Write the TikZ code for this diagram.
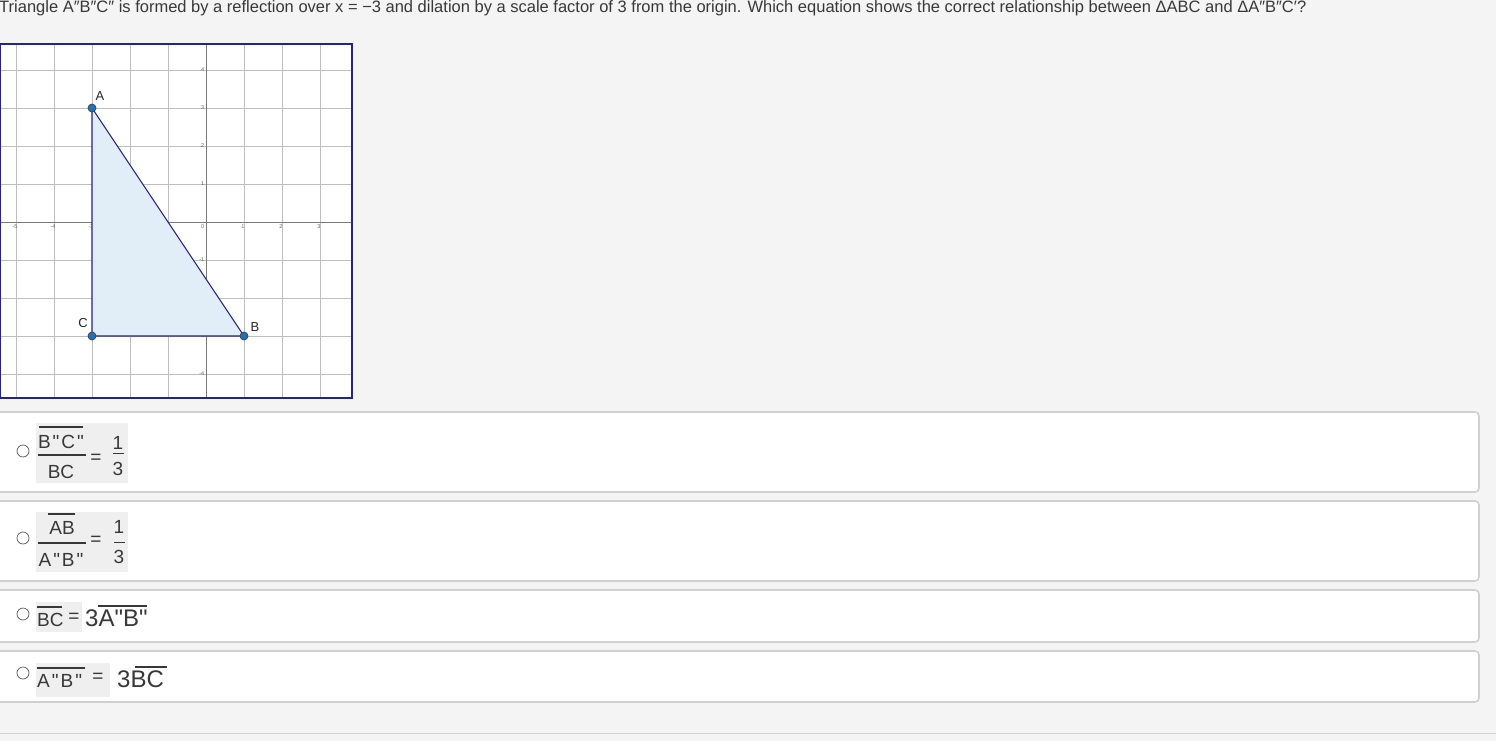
\documentclass[tikz,border=0pt]{standalone}
\usepackage{fontspec}
\setmainfont{Liberation Sans}[Ligatures=TeXOff]
\usetikzlibrary{positioning}
\definecolor{pagebg}{HTML}{F4F4F4}
\definecolor{navy}{HTML}{23238C}
\definecolor{gridgray}{HTML}{BEBEBE}
\definecolor{axisgray}{HTML}{7A7A7A}
\definecolor{triblue}{HTML}{E1EEF8}
\definecolor{dotblue}{HTML}{1F72B8}
\definecolor{boxedge}{HTML}{D0D0D0}
\definecolor{txt}{HTML}{383838}
\definecolor{formbg}{HTML}{EFEFEF}
\tikzset{
  optbox/.style={draw=boxedge,line width=1.6pt,fill=white,rounded corners=4pt},
  radio/.style={circle,draw=black!65,fill=white,line width=0.7pt,inner sep=0pt,minimum size=12pt},
  ticklbl/.style={font=\fontsize{5.5}{5.5}\selectfont,text=black!60,inner sep=0.5pt},
  vertex/.style={circle,draw=black!75,fill=dotblue,line width=0.7pt,inner sep=0pt,minimum size=8pt},
  vlbl/.style={font=\fontsize{13}{13}\selectfont,text=black!85,inner sep=0pt},
  eqtxt/.style={font=\fontsize{19}{19}\selectfont,text=txt,inner sep=0pt},
  bigtxt/.style={font=\fontsize{24}{24}\selectfont,text=txt,inner sep=0pt},
  bar/.style={txt,line width=1.4pt}
}
\newcommand{\qsp}{\kern2pt}
\begin{document}
\begin{tikzpicture}[x=1pt,y=-1pt]
\useasboundingbox[fill=pagebg] (0,0) rectangle (1496,741);

\node[anchor=base west,font=\fontsize{16.5}{16.5}\selectfont,text=txt,inner sep=0pt] (question) at (-1,13)
  {Triangle A″B″C″ is formed by a reflection over x = −3 and dilation by a scale factor of 3 from the origin. Which equation shows the correct relationship between ΔABC and ΔA″B″C′?};

\fill[white] (0,44) rectangle (352,398);
\foreach \x in {16,54,...,320} \draw[gridgray,line width=0.9pt] (\x,44) -- (\x,398);
\foreach \y in {70,108,...,374} \draw[gridgray,line width=0.9pt] (0,\y) -- (352,\y);
\draw[axisgray,line width=1pt] (0,222) -- (352,222);
\draw[axisgray,line width=1pt] (206,44) -- (206,398);
\foreach \v/\x in {-5/16,-4/54,-3/92,-2/130,-1/168,1/244,2/282,3/320}
  \node[ticklbl,anchor=north] at (\x-1,224) {\v};
\node[ticklbl,anchor=north east] at (205,224) {0};
\foreach \v/\y in {4/70,3/108,2/146,1/184,-1/260,-2/298,-3/336,-4/374}
  \node[ticklbl,anchor=east] at (205,\y) {\v};

\coordinate (A) at (92,108);
\coordinate (B) at (244,336);
\coordinate (C) at (92,336);
\fill[triblue] (A) -- (B) -- (C) -- cycle;
\draw[navy,line width=1.1pt] (A) -- (B) -- (C) -- cycle;
\node[vertex] (dotA) at (A) {};
\node[vertex] (dotB) at (B) {};
\node[vertex] (dotC) at (C) {};
\node[vlbl] (lblA) at (100,96) {A};
\node[vlbl] (lblB) at (255,327) {B};
\node[vlbl] (lblC) at (83,323) {C};
\draw[navy,line width=2pt] (0,44) rectangle (352,398);

\draw[optbox] (-10,412) rectangle (1479,492);
\draw[optbox] (-10,501) rectangle (1479,581);
\draw[optbox] (-10,590) rectangle (1479,642);
\draw[optbox] (-10,651) rectangle (1479,702);
\node[radio] (r1) at (23,451) {};
\node[radio] (r2) at (23,538) {};
\node[radio] (r3) at (23,614) {};
\node[radio] (r4) at (23,673) {};

\fill[formbg] (36,423) rectangle (128,483);
\node[eqtxt] (num1) at (61,442) {B\qsp"\qsp C\qsp"};
\draw[bar] (39,427) -- (83,427);
\draw[bar] (38,455) -- (86,455);
\draw[txt,line width=2.8pt] (50,455) -- (74,455);
\node[eqtxt] (den1) at (61,472) {BC};
\node[eqtxt] (eq1) at (96,459) {=};
\node[eqtxt] (one1) at (118,443) {1};
\draw[bar,line width=1pt] (113,453) -- (124,453);
\node[eqtxt] (three1) at (118,469) {3};

\fill[formbg] (36,512) rectangle (128,572);
\node[eqtxt] (num2) at (62,528) {AB};
\draw[bar] (48,514) -- (75,514);
\draw[bar] (38,543) -- (86,543);
\draw[txt,line width=2.8pt] (50,543) -- (74,543);
\node[eqtxt] (den2) at (61,560) {A\qsp"\qsp B\qsp"};
\node[eqtxt] (eq2) at (96,541) {=};
\node[eqtxt] (one2) at (119,527) {1};
\draw[bar,line width=1pt] (114,542) -- (125,542);
\node[eqtxt] (three2) at (119,557) {3};

\fill[formbg] (36,602) rectangle (82,632);
\node[eqtxt,anchor=west] (bc3) at (37,620) {BC};
\draw[bar] (37,607) -- (62,607);
\node[eqtxt] (eq3) at (74,618) {=};
\node[bigtxt,anchor=west] (rhs3) at (85,618) {3A"B"};
\draw[bar] (98,606) -- (147,606);

\fill[formbg] (36,663) rectangle (110,697);
\node[eqtxt,anchor=west] (ab4) at (37,681) {A\qsp"\qsp B\qsp"};
\draw[bar] (37,668) -- (85,668);
\node[eqtxt] (eq4) at (98,678) {=};
\node[bigtxt,anchor=west] (rhs4) at (117,679) {3BC};
\draw[bar] (135,667) -- (167,667);

\draw[boxedge,line width=1pt] (0,733) -- (1496,733);
\end{tikzpicture}
\end{document}
